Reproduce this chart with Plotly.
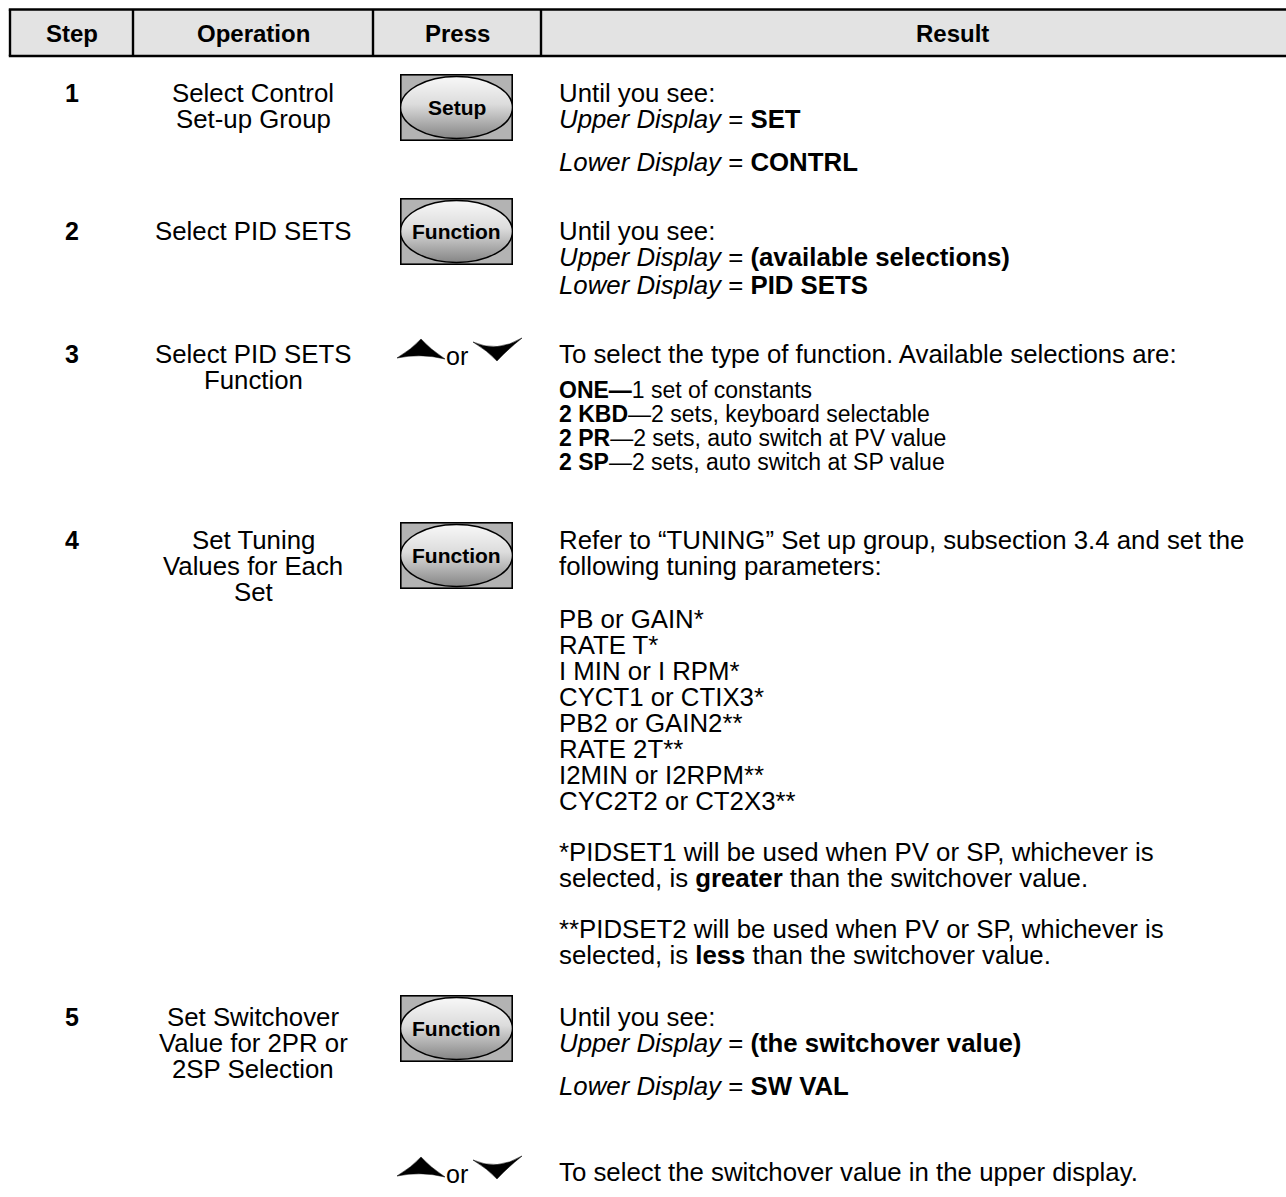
import base64
import plotly.graph_objects as go

W, H = 1286, 1197
FONT = "Liberation Sans, Arial, sans-serif"

# ---------------- table content ----------------
headers = ["Step", "Operation", "Press", "Result"]
steps = ["1", "2", "3", "4", "5"]
operations = [
    ["Select Control", "Set-up Group"],
    ["Select PID SETS"],
    ["Select PID SETS", "Function"],
    ["Set Tuning", "Values for Each", "Set"],
    ["Set Switchover", "Value for 2PR or", "2SP Selection"],
]
press_keys = ["Setup", "Function", "ARROWS", "Function", "Function"]
results = [
    ["Until you see:",
     "<i>Upper Display</i> = <b>SET</b>",
     "<i>Lower Display</i> = <b>CONTRL</b>"],
    ["Until you see:",
     "<i>Upper Display</i> = <b>(available selections)</b>",
     "<i>Lower Display</i> = <b>PID SETS</b>"],
    ["To select the type of function. Available selections are:",
     "<b>ONE—</b>1 set of constants",
     "<b>2 KBD</b>—2 sets, keyboard selectable",
     "<b>2 PR</b>—2 sets, auto switch at PV value",
     "<b>2 SP</b>—2 sets, auto switch at SP value"],
    ["Refer to “TUNING” Set up group, subsection 3.4 and set the",
     "following tuning parameters:",
     "PB or GAIN*", "RATE T*", "I MIN or I RPM*", "CYCT1 or CTIX3*",
     "PB2 or GAIN2**", "RATE 2T**", "I2MIN or I2RPM**", "CYC2T2 or CT2X3**",
     "*PIDSET1 will be used when PV or SP, whichever is",
     "selected, is <b>greater</b> than the switchover value.",
     "**PIDSET2 will be used when PV or SP, whichever is",
     "selected, is <b>less</b> than the switchover value."],
    ["Until you see:",
     "<i>Upper Display</i> = <b>(the switchover value)</b>",
     "<i>Lower Display</i> = <b>SW VAL</b>"],
]
extra_result = "To select the switchover value in the upper display."
or_label = "or"

# ---------------- layout geometry (pixels from top-left) ----------------
col_x = [10, 133, 373, 541, 1363]
head_top, head_bot = 9.5, 56
row_y = [93, 231, 354, 540, 1017]
op_dy = 26
result_y = [
    [93, 119, 162],
    [231, 257, 285],
    [354, 390, 414, 438, 462],
    [540, 566, 619, 645, 671, 697, 723, 749, 775, 801, 852, 878, 929, 955],
    [1017, 1043, 1086],
]
result_small = [[], [], [1, 2, 3, 4], [], []]
extra_y = 1172
btn_x = (400, 513)
btn_tops = [74, 198, None, 522, 995]
btn_h = 67
arrow_rows = [350, 1168]   # vertical centre of arrow pairs
text_x = 557

BODY = 25.8
SMALL = 23
HEAD = 24
STEPF = 25

def Y(py):
    return H - py

shapes = []
annotations = []
images = []

# header
shapes.append(dict(type="rect", x0=col_x[0], x1=W + 5, y0=Y(head_bot), y1=Y(head_top),
                   fillcolor="#e3e3e3", line=dict(width=0), layer="below"))
for yy in (head_top, head_bot):
    shapes.append(dict(type="line", x0=col_x[0] - 1.2, x1=W + 5, y0=Y(yy), y1=Y(yy),
                       line=dict(color="black", width=2.6)))
for xx in col_x[:4]:
    shapes.append(dict(type="line", x0=xx, x1=xx, y0=Y(head_top), y1=Y(head_bot),
                       line=dict(color="black", width=2.4)))
for i, h in enumerate(headers):
    cx = (col_x[i] + col_x[i + 1]) / 2
    annotations.append(dict(x=cx, y=Y((head_top + head_bot) / 2 + 1), text=f"<b>{h}</b>",
                            xanchor="center", yanchor="middle", showarrow=False,
                            font=dict(family=FONT, size=HEAD, color="black")))

# step numbers & operations
for i, s in enumerate(steps):
    annotations.append(dict(x=(col_x[0] + col_x[1]) / 2, y=Y(row_y[i]), text=f"<b>{s}</b>",
                            xanchor="center", yanchor="middle", showarrow=False,
                            font=dict(family=FONT, size=STEPF, color="black")))
    for j, line in enumerate(operations[i]):
        annotations.append(dict(x=(col_x[1] + col_x[2]) / 2, y=Y(row_y[i] + j * op_dy),
                                text=line, xanchor="center", yanchor="middle", showarrow=False,
                                font=dict(family=FONT, size=BODY, color="black")))

# results
for i, lines in enumerate(results):
    for j, line in enumerate(lines):
        size = SMALL if j in result_small[i] else BODY
        annotations.append(dict(x=text_x, y=Y(result_y[i][j]), text=line,
                                xanchor="left", yanchor="middle", showarrow=False,
                                font=dict(family=FONT, size=size, color="black")))
annotations.append(dict(x=text_x, y=Y(extra_y), text=extra_result, xanchor="left",
                        yanchor="middle", showarrow=False,
                        font=dict(family=FONT, size=BODY, color="black")))

# buttons
bw = btn_x[1] - btn_x[0]
svg = (f"<svg xmlns='http://www.w3.org/2000/svg' width='{bw}' height='{btn_h}' viewBox='0 0 {bw} {btn_h}'>"
       "<defs><linearGradient id='g' x1='0' y1='0' x2='0' y2='1'>"
       "<stop offset='0' stop-color='#f8f8f8'/><stop offset='0.45' stop-color='#dcdcdc'/>"
       "<stop offset='1' stop-color='#858585'/></linearGradient></defs>"
       f"<rect x='0.8' y='0.8' width='{bw - 1.6}' height='{btn_h - 1.6}' fill='#b3b3b3' stroke='#000' stroke-width='1.6'/>"
       f"<ellipse cx='{bw / 2}' cy='{btn_h / 2}' rx='{bw / 2 - 0.5}' ry='{btn_h / 2 - 2.5}' fill='url(#g)' stroke='#000' stroke-width='1.6'/>"
       "</svg>")
src = "data:image/svg+xml;base64," + base64.b64encode(svg.encode()).decode()
for i, key in enumerate(press_keys):
    if btn_tops[i] is None:
        continue
    top = btn_tops[i]
    images.append(dict(source=src, xref="x", yref="y", x=btn_x[0], y=Y(top),
                       sizex=bw, sizey=btn_h, xanchor="left", yanchor="top",
                       sizing="stretch", layer="above"))
    annotations.append(dict(x=(btn_x[0] + btn_x[1]) / 2, y=Y(top + btn_h / 2), text=f"<b>{key}</b>",
                            xanchor="center", yanchor="middle", showarrow=False,
                            font=dict(family=FONT, size=21, color="black")))

# arrows
def up_arrow(cx, cy):
    return (f"M {cx - 24},{Y(cy + 8)} Q {cx - 9},{Y(cy - 1)} {cx},{Y(cy - 11)} "
            f"Q {cx + 9},{Y(cy - 1)} {cx + 24},{Y(cy + 9)} "
            f"Q {cx},{Y(cy + 3)} {cx - 24},{Y(cy + 8)} Z")

def down_arrow(cx, cy):
    return (f"M {cx - 24},{Y(cy - 8)} Q {cx},{Y(cy + 3)} {cx + 25},{Y(cy - 12)} "
            f"Q {cx + 9},{Y(cy + 1)} {cx},{Y(cy + 11)} "
            f"Q {cx - 9},{Y(cy + 1)} {cx - 24},{Y(cy - 8)} Z")

for cy in arrow_rows:
    shapes.append(dict(type="path", path=up_arrow(421, cy), fillcolor="black",
                       line=dict(color="black", width=0.5)))
    shapes.append(dict(type="path", path=down_arrow(497, cy), fillcolor="black",
                       line=dict(color="black", width=0.5)))
    annotations.append(dict(x=456.5, y=Y(cy + 6), text=or_label, xanchor="center",
                            yanchor="middle", showarrow=False,
                            font=dict(family=FONT, size=25, color="black")))

fig = go.Figure(go.Scatter(x=[], y=[]))
fig.update_layout(
    width=W, height=H,
    margin=dict(l=0, r=0, t=0, b=0),
    paper_bgcolor="white", plot_bgcolor="rgba(0,0,0,0)",
    xaxis=dict(range=[0, W], visible=False, fixedrange=True),
    yaxis=dict(range=[0, H], visible=False, fixedrange=True),
    shapes=shapes, annotations=annotations, images=images,
    showlegend=False,
)
fig.write_html("out.html", config={"displayModeBar": False},
               post_script="document.body.style.margin='0px';document.body.style.overflow='hidden';")
